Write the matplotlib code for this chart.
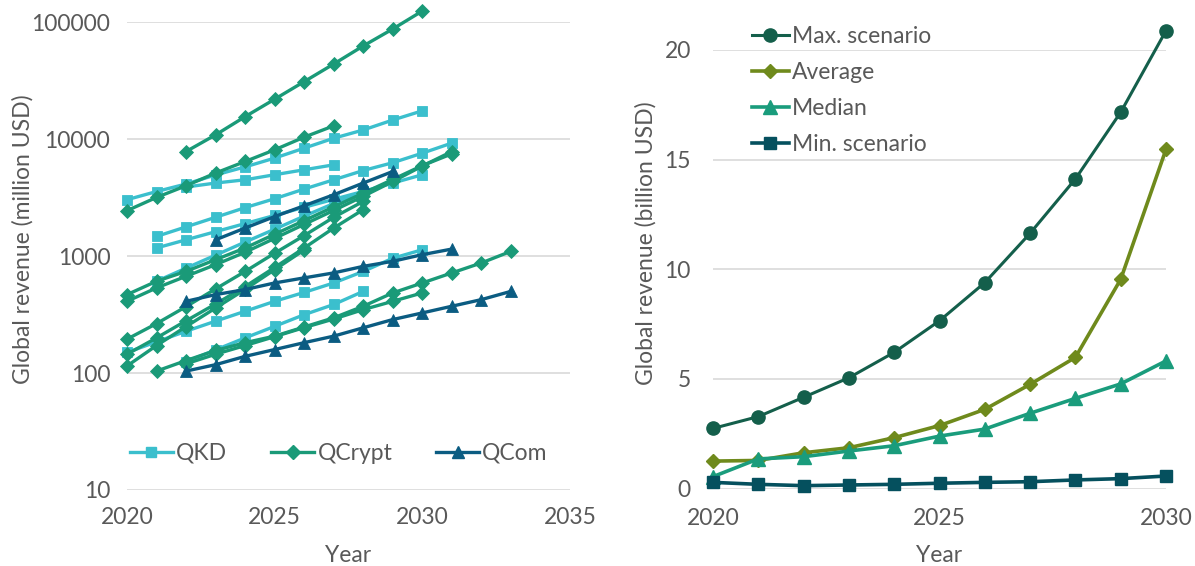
import matplotlib
matplotlib.use("Agg")
import matplotlib.pyplot as plt
from matplotlib.lines import Line2D
from matplotlib.ticker import FixedLocator, FixedFormatter

plt.rcParams['font.family'] = ['Lato', 'DejaVu Sans']

# ---------------- left panel: individual forecasts (million USD) ----------------
# each forecast: first year and yearly values
qkd_1_start, qkd_1 = 2020, [3040, 3570, 4140, 4950, 5800, 6900, 8390, 10200, 12000, 14600, 17500]
qkd_2_start, qkd_2 = 2022, [3900, 4220, 4500, 4970, 5480, 6040]
qkd_3_start, qkd_3 = 2021, [1475, 1780, 2150, 2600, 3100, 3750, 4500, 5400, 6300, 7600, 9270]
qkd_4_start, qkd_4 = 2021, [1175, 1380, 1620, 1900, 2230, 2620, 3060, 3580, 4220, 4970]
qkd_5_start, qkd_5 = 2021, [610, 790, 1020, 1320, 1700, 2200, 2820, 3600]
qkd_6_start, qkd_6 = 2020, [150, 185, 228, 278, 338, 411, 490, 590, 740, 960, 1135]
qkd_7_start, qkd_7 = 2022, [125, 158, 200, 251, 316, 386, 500]

qcrypt_1_start, qcrypt_1 = 2022, [7850, 10900, 15600, 22000, 31100, 44000, 62800, 87700, 124900]
qcrypt_2_start, qcrypt_2 = 2020, [2450, 3180, 4000, 5140, 6450, 8120, 10420, 13020]
qcrypt_3_start, qcrypt_3 = 2020, [469, 610, 741, 933, 1175, 1540, 2015, 2640, 3460, 4530, 5950, 7500]
qcrypt_4_start, qcrypt_4 = 2020, [411, 535, 673, 846, 1080, 1420, 1870, 2460, 3250, 4350, 5900, 7850]
qcrypt_5_start, qcrypt_5 = 2020, [195, 265, 370, 525, 740, 1060, 1500, 2150, 2940]
qcrypt_6_start, qcrypt_6 = 2020, [145, 200, 280, 390, 550, 800, 1175, 1740, 2500]
qcrypt_7_start, qcrypt_7 = 2020, [115, 172, 250, 360, 520, 767, 1130]
qcrypt_8_start, qcrypt_8 = 2021, [104, 128, 156, 182, 207, 248, 297, 373, 485, 590, 719, 875, 1100]
qcrypt_9_start, qcrypt_9 = 2022, [120, 145, 172, 205, 245, 290, 349, 411, 485]

qcom_1_start, qcom_1 = 2023, [1380, 1740, 2180, 2700, 3350, 4220, 5300]
qcom_2_start, qcom_2 = 2022, [411, 469, 518, 590, 652, 719, 818, 904, 1030, 1150]
qcom_3_start, qcom_3 = 2022, [104, 118, 139, 159, 182, 207, 244, 287, 327, 373, 425, 500]

qkd_forecasts = [(qkd_1_start, qkd_1), (qkd_2_start, qkd_2), (qkd_3_start, qkd_3),
                 (qkd_4_start, qkd_4), (qkd_5_start, qkd_5), (qkd_6_start, qkd_6),
                 (qkd_7_start, qkd_7)]
qcrypt_forecasts = [(qcrypt_1_start, qcrypt_1), (qcrypt_2_start, qcrypt_2),
                    (qcrypt_3_start, qcrypt_3), (qcrypt_4_start, qcrypt_4),
                    (qcrypt_5_start, qcrypt_5), (qcrypt_6_start, qcrypt_6),
                    (qcrypt_7_start, qcrypt_7), (qcrypt_8_start, qcrypt_8),
                    (qcrypt_9_start, qcrypt_9)]
qcom_forecasts = [(qcom_1_start, qcom_1), (qcom_2_start, qcom_2), (qcom_3_start, qcom_3)]

left_yticks = [10, 100, 1000, 10000, 100000]
left_xticks = [2020, 2025, 2030, 2035]

# ---------------- right panel: aggregated scenarios (billion USD) ----------------
years = list(range(2020, 2031))
max_scenario = [2.74, 3.28, 4.16, 5.05, 6.21, 7.65, 9.39, 11.64, 14.12, 17.16, 20.88]
average = [1.25, 1.28, 1.63, 1.86, 2.32, 2.87, 3.61, 4.75, 5.98, 9.54, 15.47]
median = [0.54, 1.35, 1.45, 1.71, 1.95, 2.39, 2.71, 3.43, 4.11, 4.77, 5.82]
min_scenario = [0.28, 0.19, 0.13, 0.16, 0.19, 0.24, 0.28, 0.31, 0.39, 0.45, 0.57]

right_yticks = [0, 5, 10, 15, 20]
right_xticks = [2020, 2025, 2030]

# ---------------- styling ----------------
TEXT = '#595959'
GRID = '#d9d9d9'
C_QKD, C_QCRYPT, C_QCOM = '#3BBFCD', '#1A9A78', '#0B5C82'
C_MAX, C_AVG, C_MED, C_MIN = '#145F4B', '#6F8A1C', '#1A9C7C', '#05505E'
FS = 16.5

fig = plt.figure(figsize=(11.95, 5.66), dpi=100)
W, H = 1195, 566


def style_axes(ax):
    for s in ax.spines.values():
        s.set_visible(False)
    ax.tick_params(length=0, labelsize=FS, colors=TEXT)
    ax.grid(axis='y', color=GRID, lw=1.2)
    ax.set_axisbelow(True)


# left panel
axL = fig.add_axes([127 / W, 1 - 490 / H, (570 - 127) / W, (490 - 22.3) / H])
style_axes(axL)
axL.set_yscale('log')
axL.set_xlim(2020, 2035)
axL.set_ylim(10, 100000)
axL.yaxis.set_major_locator(FixedLocator(left_yticks))
axL.yaxis.set_major_formatter(FixedFormatter([str(v) for v in left_yticks]))
axL.yaxis.set_minor_locator(FixedLocator([]))
axL.set_xticks(left_xticks)
axL.set_xticklabels([str(v) for v in left_xticks])
axL.tick_params(axis='y', pad=12)
axL.tick_params(axis='x', pad=12)

groups = [(qkd_forecasts, C_QKD, 's', 6.8),
          (qcrypt_forecasts, C_QCRYPT, 'D', 7.2),
          (qcom_forecasts, C_QCOM, '^', 9)]
for forecasts, color, marker, ms in groups:
    for start, vals in forecasts:
        xs = list(range(start, start + len(vals)))
        axL.plot(xs, vals, color=color, lw=2.4, marker=marker, ms=ms,
                 mfc=color, mec=color, mew=0.6, clip_on=False)

axL.set_ylabel('Global revenue (million USD)', fontsize=FS, color=TEXT)
axL.yaxis.set_label_coords(-0.212, 0.536)
axL.set_xlabel('Year', fontsize=FS, color=TEXT)
axL.xaxis.set_label_coords(0.5, -0.118)

left_handles = [Line2D([], [], color=C_QKD, lw=2.4, marker='s', ms=6.8, mec=C_QKD),
                Line2D([], [], color=C_QCRYPT, lw=2.4, marker='D', ms=7.2, mec=C_QCRYPT),
                Line2D([], [], color=C_QCOM, lw=2.4, marker='^', ms=9, mec=C_QCOM)]
legL = axL.legend(left_handles, ['QKD', 'QCrypt', 'QCom'], ncol=3, frameon=False,
                  loc='center', bbox_to_anchor=(0.478, 0.079), fontsize=FS,
                  handlelength=1.9, handletextpad=0.13, columnspacing=1.9)
for t in legL.get_texts():
    t.set_color(TEXT)

# right panel
axR = fig.add_axes([713 / W, 1 - 488.5 / H, (1166 - 713) / W, (488.5 - 50) / H])
style_axes(axR)
axR.set_xlim(2020, 2030)
axR.set_ylim(0, 20)
axR.set_yticks(right_yticks)
axR.set_yticklabels([str(v) for v in right_yticks])
axR.set_xticks(right_xticks)
axR.set_xticklabels([str(v) for v in right_xticks])
axR.tick_params(axis='y', pad=16)
axR.tick_params(axis='x', pad=14)

axR.plot(years, max_scenario, color=C_MAX, lw=2.2, marker='o', ms=9.5,
         label='Max. scenario', clip_on=False, zorder=3)
axR.plot(years, average, color=C_AVG, lw=2.6, marker='D', ms=7.0,
         label='Average', clip_on=False, zorder=3)
axR.plot(years, median, color=C_MED, lw=2.6, marker='^', ms=10,
         label='Median', clip_on=False, zorder=3)
axR.plot(years, min_scenario, color=C_MIN, lw=2.6, marker='s', ms=9,
         label='Min. scenario', clip_on=False, zorder=3)

axR.set_ylabel('Global revenue (billion USD)', fontsize=FS, color=TEXT)
axR.yaxis.set_label_coords(-0.124, 0.56)
axR.set_xlabel('Year', fontsize=FS, color=TEXT)
axR.xaxis.set_label_coords(0.5, -0.128)

legR = axR.legend(loc='upper left', bbox_to_anchor=(0.066, 1.076), frameon=False,
                  fontsize=FS, handlelength=1.6, handletextpad=0.13,
                  labelspacing=0.66, borderaxespad=0)
for t in legR.get_texts():
    t.set_color(TEXT)

fig.savefig('out.png', dpi=100)
